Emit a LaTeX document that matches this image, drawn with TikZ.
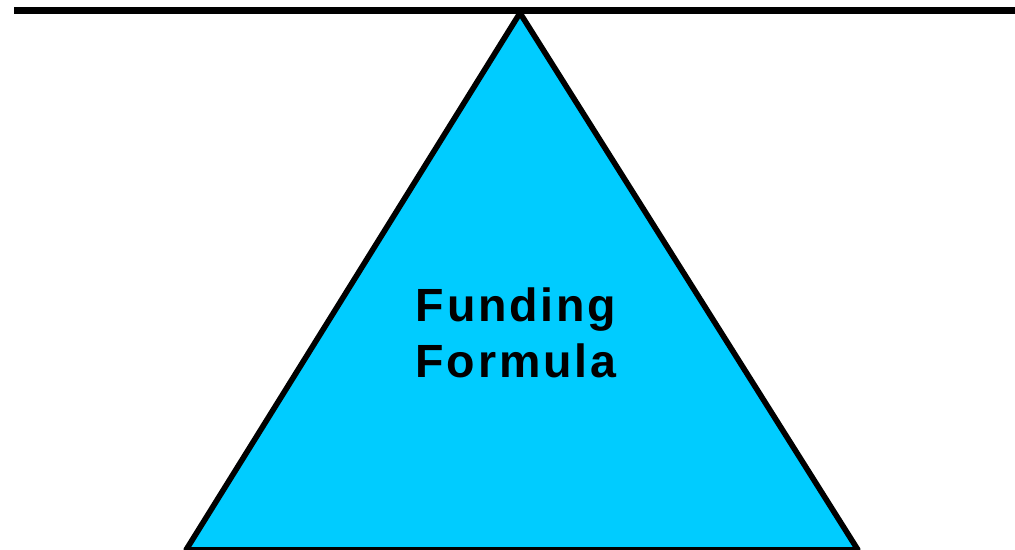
\documentclass[tikz,border=0pt]{standalone}
\usepackage{fontspec}
\setmainfont{Liberation Sans}
\usetikzlibrary{positioning}
\definecolor{fundcyan}{RGB}{0,204,255}

\begin{document}
\begin{tikzpicture}[
    x=0.02cm, y=-0.02cm,
    beam/.style={draw=black, line width=4pt},
    wedge/.style={draw=black, fill=fundcyan, line width=3.2pt, line join=round},
    label/.style={font=\fontsize{26.5}{32}\selectfont\bfseries\addfontfeature{LetterSpace=6}, align=center}
]
    \useasboundingbox (0,0) rectangle (1015,550);
    % Triangle
    \coordinate (apex) at (520,13);
    \coordinate (baseL) at (186,550);
    \coordinate (baseR) at (858,550);
    \path[wedge] (apex) -- (baseR) -- (baseL) -- cycle;
    % Top line
    \coordinate (lineL) at (14,10.5);
    \coordinate (lineR) at (1015,10.5);
    \draw[beam] (lineL) -- (lineR);
    % Text
    \node[label] (formula) at (516,333) {Funding\\Formula};
\end{tikzpicture}
\end{document}
